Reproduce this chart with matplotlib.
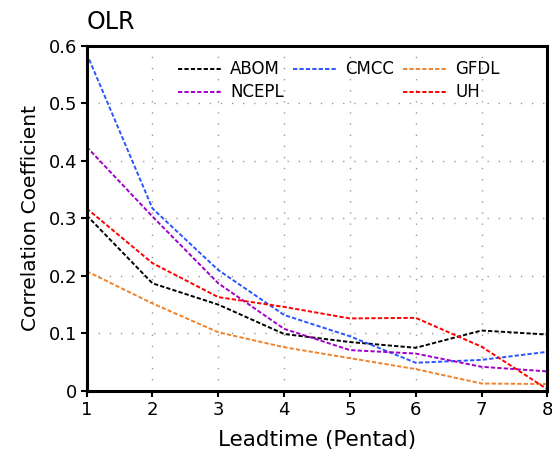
import matplotlib
matplotlib.use("Agg")
import matplotlib.pyplot as plt
from matplotlib.lines import Line2D

# Data
leadtime = [1, 2, 3, 4, 5, 6, 7, 8]
abom = [0.305, 0.187, 0.150, 0.099, 0.085, 0.075, 0.105, 0.098]
cmcc = [0.586, 0.317, 0.210, 0.132, 0.095, 0.049, 0.054, 0.068]
gfdl = [0.208, 0.152, 0.102, 0.076, 0.057, 0.038, 0.013, 0.012]
ncepl = [0.424, 0.303, 0.187, 0.108, 0.071, 0.065, 0.042, 0.034]
uh = [0.317, 0.222, 0.163, 0.146, 0.126, 0.127, 0.077, 0.003]

x_ticks = [1, 2, 3, 4, 5, 6, 7, 8]
y_ticks = [0, 0.1, 0.2, 0.3, 0.4, 0.5, 0.6]
y_tick_labels = ["0", "0.1", "0.2", "0.3", "0.4", "0.5", "0.6"]

plt.rcParams['font.family'] = ['DejaVu Sans']

fig = plt.figure(figsize=(5.52, 4.55), dpi=100)
ax = fig.add_axes([0.157, 0.1407, 0.8345, 0.7593])

dash = (0, (2.2, 1.1))
lw = 1.4
l_abom, = ax.plot(leadtime, abom, color='black', lw=lw, linestyle=dash, label='ABOM')
l_cmcc, = ax.plot(leadtime, cmcc, color='#2a55ff', lw=lw, linestyle=dash, label='CMCC')
l_gfdl, = ax.plot(leadtime, gfdl, color='#f0822a', lw=lw, linestyle=dash, label='GFDL')
l_ncepl, = ax.plot(leadtime, ncepl, color='#a000c8', lw=lw, linestyle=dash, label='NCEPL')
l_uh, = ax.plot(leadtime, uh, color='#ff0000', lw=lw, linestyle=dash, label='UH')

ax.set_xlim(1, 8)
ax.set_ylim(0, 0.6)
ax.set_xticks(x_ticks)
ax.set_yticks(y_ticks)
ax.set_yticklabels(y_tick_labels)
ax.tick_params(labelsize=13, width=1.5, length=4, direction='out', pad=3)

ax.grid(True, color='#999999', linestyle=(0, (1, 7)), linewidth=1)
for s in ax.spines.values():
    s.set_linewidth(2.2)

ax.set_xlabel('Leadtime (Pentad)', fontsize=15.5, labelpad=8)
ax.set_ylabel('Correlation Coefficient', fontsize=14.5, labelpad=6)
ax.set_title('OLR', fontsize=17, loc='left', pad=12)

blank = Line2D([], [], color='none')
handles = [l_abom, l_ncepl, l_cmcc, blank, l_gfdl, l_uh]
labels = ['ABOM', 'NCEPL', 'CMCC', '', 'GFDL', 'UH']
ax.legend(handles, labels, ncol=3, loc='upper left', bbox_to_anchor=(0.184, 0.976),
          borderaxespad=0, frameon=False, fontsize=12, handlelength=2.65,
          handletextpad=0.48, columnspacing=0.55, labelspacing=0.3)

fig.savefig('out.png', dpi=100)
